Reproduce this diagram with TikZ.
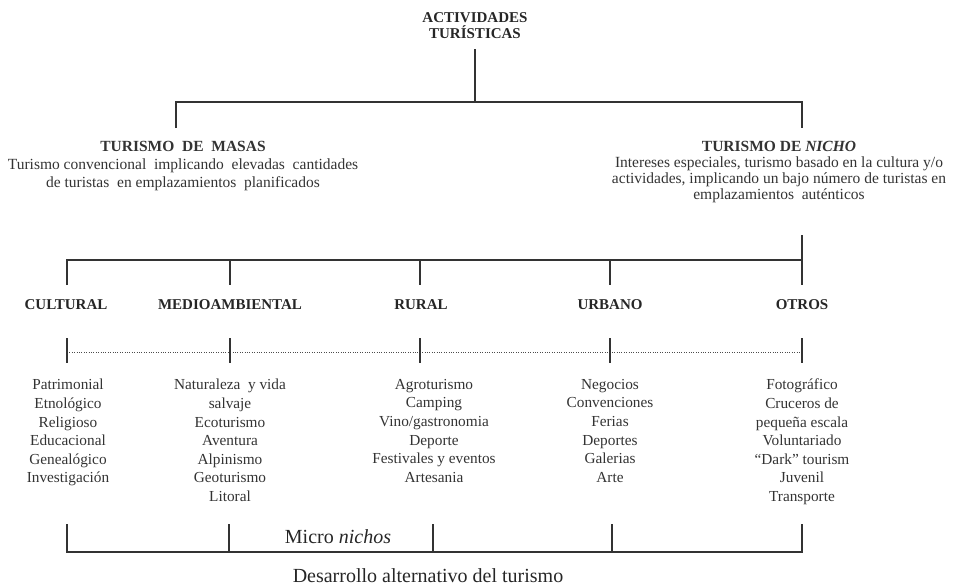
\documentclass[tikz,border=0pt]{standalone}
\usepackage{fontspec}
\setmainfont{Liberation Serif}
\begin{document}
\begin{tikzpicture}[x=1pt,y=-1pt,
  conn/.style={draw=black!80, line width=1.5pt},
  tick/.style={draw=black!80, line width=1.3pt},
  dotl/.style={draw=black!70, line width=1pt, dash pattern=on 1pt off 1.4pt},
  hd/.style={font=\fontsize{15}{16}\selectfont\bfseries, text=black!85, inner sep=0pt, align=center},
  par/.style={font=\fontsize{15.5}{18}\selectfont, text=black!80, inner sep=0pt, align=center},
  lst/.style={font=\fontsize{15.3}{18.6}\selectfont, text=black!80, inner sep=0pt, align=center, anchor=north},
  big/.style={font=\fontsize{20}{22}\selectfont, text=black!85, inner sep=0pt}]
\useasboundingbox (0,0) rectangle (957,587);

% top
\node[hd] (top) at (475,26) {ACTIVIDADES\\TURÍSTICAS};
\coordinate (c0) at (475,49);
\coordinate (j0) at (475,102);
\coordinate (jl) at (176,102);
\coordinate (jr) at (802,102);
\coordinate (jlb) at (176,128);
\coordinate (jrb) at (802,128);
\draw[conn] (c0) -- (j0);
\draw[conn] (jlb) -- (jl) -- (jr) -- (jrb);

% level 2
\node[par] (masas) at (183,166.5) {\textbf{TURISMO\ \ DE\ \ MASAS}\\Turismo convencional\ \ implicando\ \ elevadas\ \ cantidades\\de turistas\ \ en emplazamientos\ \ planificados};
\node[par, font=\fontsize{15.5}{16.3}\selectfont] (nicho) at (779,172) {\textbf{TURISMO DE \textit{NICHO}}\\Intereses especiales, turismo basado en la cultura y/o\\actividades, implicando un bajo número de turistas en\\emplazamientos\ \ auténticos};

\coordinate (n0) at (802,235);
\coordinate (h1) at (67,260);
\coordinate (h2) at (230,260);
\coordinate (h3) at (420,260);
\coordinate (h4) at (610,260);
\coordinate (h5) at (802,260);
\coordinate (b1) at (67,285);
\coordinate (b2) at (230,285);
\coordinate (b3) at (420,285);
\coordinate (b4) at (610,285);
\coordinate (b5) at (802,285);
\draw[conn] (n0) -- (b5);
\draw[conn] (b1) -- (h1) -- (h5);
\draw[conn] (h2) -- (b2);
\draw[conn] (h3) -- (b3);
\draw[conn] (h4) -- (b4);

% categories
\node[hd] (cat1) at (66,305) {CULTURAL};
\node[hd] (cat2) at (230,305) {MEDIOAMBIENTAL};
\node[hd] (cat3) at (421,305) {RURAL};
\node[hd] (cat4) at (610,305) {URBANO};
\node[hd] (cat5) at (802,305) {OTROS};

% dotted line with ticks
\coordinate (d1) at (67,352);
\coordinate (d5) at (802,352);
\draw[dotl] (d1) -- (d5);
\coordinate (t1a) at (67,338);  \coordinate (t1b) at (67,363);
\coordinate (t2a) at (230,338); \coordinate (t2b) at (230,363);
\coordinate (t3a) at (420,338); \coordinate (t3b) at (420,363);
\coordinate (t4a) at (610,338); \coordinate (t4b) at (610,363);
\coordinate (t5a) at (802,338); \coordinate (t5b) at (802,363);
\draw[tick] (t1a) -- (t1b);
\draw[tick] (t2a) -- (t2b);
\draw[tick] (t3a) -- (t3b);
\draw[tick] (t4a) -- (t4b);
\draw[tick] (t5a) -- (t5b);

% lists
\node[lst] (l1) at (68,379) {Patrimonial\\Etnológico\\Religioso\\Educacional\\Genealógico\\Investigación};
\node[lst] (l2) at (230,379) {Naturaleza\ \ y vida\\salvaje\\Ecoturismo\\Aventura\\Alpinismo\\Geoturismo\\Litoral};
\node[lst] (l3) at (434,379) {Agroturismo\\Camping\\Vino/gastronomia\\Deporte\\Festivales y eventos\\Artesania};
\node[lst] (l4) at (610,379) {Negocios\\Convenciones\\Ferias\\Deportes\\Galerias\\Arte};
\node[lst] (l5) at (802,379) {Fotográfico\\Cruceros de\\pequeña escala\\Voluntariado\\“Dark” tourism\\Juvenil\\Transporte};

% bottom bracket
\coordinate (m1a) at (67,524);  \coordinate (m1b) at (67,552);
\coordinate (m2a) at (229,524); \coordinate (m2b) at (229,552);
\coordinate (m3a) at (433,524); \coordinate (m3b) at (433,552);
\coordinate (m4a) at (612,524); \coordinate (m4b) at (612,552);
\coordinate (m5a) at (802,524); \coordinate (m5b) at (802,552);
\draw[conn] (m1a) -- (m1b) -- (m5b) -- (m5a);
\draw[conn] (m2a) -- (m2b);
\draw[conn] (m3a) -- (m3b);
\draw[conn] (m4a) -- (m4b);

\node[big] (micro) at (338,537) {Micro \textit{nichos}};
\node[big] (desa) at (428,576) {Desarrollo alternativo del turismo};
\end{tikzpicture}
\end{document}
